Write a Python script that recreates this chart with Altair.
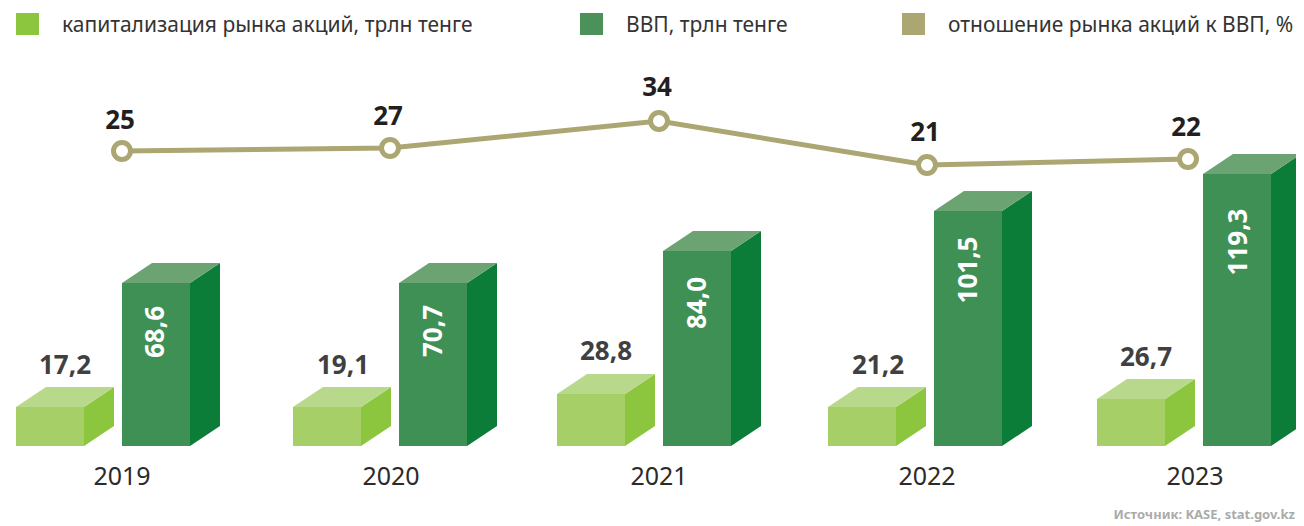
import altair as alt
import pandas as pd

# --- values ---
years = ["2019", "2020", "2021", "2022", "2023"]
market_cap = ["17,2", "19,1", "28,8", "21,2", "26,7"]
gdp = ["68,6", "70,7", "84,0", "101,5", "119,3"]
ratio = ["25", "27", "34", "21", "22"]
# drawn bar / line levels on the picture's hidden vertical scale
market_cap_level = [39, 39, 52, 39, 47]
gdp_level = [163, 163, 195, 235, 272]
ratio_level = [295, 298, 325, 281, 287]
legend_names = ["капитализация рынка акций, трлн тенге", "ВВП, трлн тенге", "отношение рынка акций к ВВП, %"]
source_note = "Источник: KASE, stat.gov.kz"

# --- layout on the hidden horizontal scale ---
cap_left = [16, 293, 557, 828, 1097]
gdp_left = [122, 399, 663, 934, 1203]
line_x = [122, 390, 659, 927, 1188]
year_x = [122, 391, 659, 927, 1195]
ratio_label_x = [120, 388, 657, 925, 1186]
cap_label_x = [65, 343, 606, 878, 1146]
gdp_label_x = [156, 434, 698, 969, 1239]
BAR_W, DX, DY = 68, 30, 20
legend_square_x = [16, 580, 902]
legend_text_x = [62, 626, 948]

FONT = "Noto Sans"
X = alt.Scale(domain=[8, 1296], range=[0, 1288], nice=False, zero=False)
Y = alt.Scale(domain=[-76, 438], range=[514, 0], nice=False, zero=False)
xq = lambda f: alt.X(f, type="quantitative", scale=X, axis=None)
yq = lambda f: alt.Y(f, type="quantitative", scale=Y, axis=None)


def box(lefts, levels, front, side, top):
    fr = pd.DataFrame({"x": lefts, "x2": [l + BAR_W for l in lefts], "y": levels, "y2": 0})
    s, t = [], []
    for i, (l, h) in enumerate(zip(lefts, levels)):
        s += [dict(b=i, x=l + BAR_W, y=h, y2=0), dict(b=i, x=l + BAR_W + DX, y=h + DY, y2=DY)]
        t += [dict(b=i, y=h, x=l, x2=l + BAR_W), dict(b=i, y=h + DY, x=l + DX, x2=l + DX + BAR_W)]
    return [
        alt.Chart(pd.DataFrame(s)).mark_area(color=side, orient="vertical", clip=True).encode(
            x=xq("x"), y=yq("y"), y2="y2", detail="b:N"),
        alt.Chart(pd.DataFrame(t)).mark_area(color=top, orient="horizontal", clip=True).encode(
            y=yq("y"), x=xq("x"), x2="x2", detail="b:N"),
        alt.Chart(fr).mark_rect(color=front).encode(x=xq("x"), x2="x2", y=yq("y"), y2="y2"),
    ]


def labels(xs, levels, texts, **kw):
    df = pd.DataFrame({"x": xs, "y": levels, "t": texts})
    return alt.Chart(df).mark_text(font=FONT, align=kw.pop("align", "center"), baseline="middle", **kw).encode(
        x=xq("x"), y=yq("y"), text="t:N")


cap_boxes = box(cap_left, market_cap_level, "#A6D067", "#8BC63E", "#B8D98B")
gdp_boxes = box(gdp_left, gdp_level, "#3E9055", "#0C7C39", "#6BA472")

line_df = pd.DataFrame({"x": line_x, "y": ratio_level})
line = alt.Chart(line_df).mark_line(color="#ABA672", strokeWidth=5).encode(x=xq("x"), y=yq("y"))
pts = alt.Chart(line_df).mark_point(filled=True, fill="white", stroke="#ABA672", strokeWidth=5, size=289, opacity=1).encode(
    x=xq("x"), y=yq("y"))

legend_df = pd.DataFrame({"x": legend_square_x, "x2": [v + 23 for v in legend_square_x], "y": 433, "y2": 411,
                          "c": ["#8BC63E", "#4C9159", "#ABA672"]})
legend_sq = alt.Chart(legend_df).mark_rect().encode(
    x=xq("x"), x2="x2", y=yq("y"), y2="y2", color=alt.Color("c:N", scale=None))

layers = (
    cap_boxes + gdp_boxes + [line, pts, legend_sq,
    labels(legend_text_x, [420] * 3, legend_names, align="left", fontSize=21, color="#333333"),
    labels(ratio_label_x, [325, 329, 358, 313, 318], ratio, fontSize=26, fontWeight="bold", color="#231F20"),
    labels(cap_label_x, [80, 80, 94, 80, 88], market_cap, fontSize=26, fontWeight="bold", color="#404040"),
    labels(gdp_label_x, [114, 115, 143, 176, 204], gdp, fontSize=26, fontWeight="bold", color="white", angle=270),
    labels(year_x, [-31] * 5, years, fontSize=25, color="#2B2B2B"),
    labels([1295], [-69], [source_note], align="right", fontSize=13, fontWeight="bold", color="#ABABAB"),
])

chart = alt.layer(*layers).properties(width=1288, height=514, padding=0, autosize=alt.AutoSizeParams(type="none")).configure_view(stroke=None)
chart.save("out.html", embed_options={"renderer": "svg", "actions": False})
